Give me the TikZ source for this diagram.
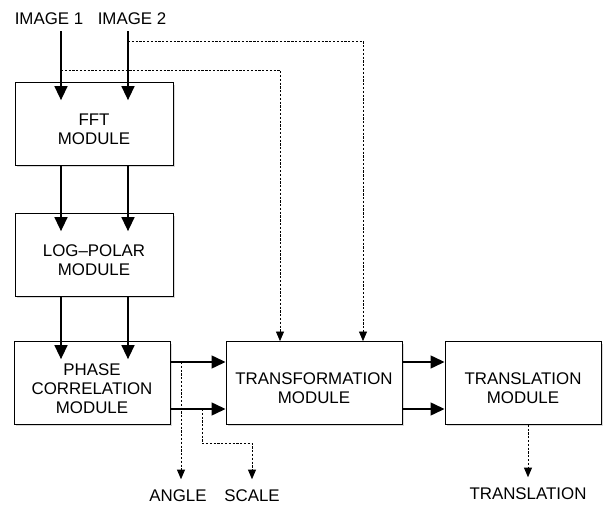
\documentclass[tikz,border=0pt]{standalone}
\usepackage{fontspec}
\setmainfont{Liberation Sans}
\usepackage{tikz}
\usetikzlibrary{arrows.meta,positioning,shadows}

\newcommand{\modstrut}{\rule{0pt}{16pt}}

\begin{document}
\begin{tikzpicture}[
    x=0.025cm, y=-0.025cm,
    module/.style={rectangle, draw, semithick, fill=white, drop shadow={shadow xshift=0.05cm, shadow yshift=-0.05cm, fill=gray!50, opacity=0.6}, minimum height=2.07cm, inner sep=1pt, align=center, font=\fontsize{12}{13.5}\selectfont},
    arrow/.style={-{Triangle[length=3.5mm,width=3.2mm]}, line width=1.4pt},
    arrowin/.style={arrow, shorten >=-0.45cm},
    dasharrow/.style={-{Triangle[length=2.4mm,width=2mm]}, line width=0.6pt, dash pattern=on 1.6pt off 1.1pt},
    lbl/.style={inner xsep=1pt, inner ysep=7.5pt, font=\fontsize{12}{13.5}\selectfont}
]
\useasboundingbox (0,0) rectangle (608,506);

\node[lbl] (img1) at (49,19) {IMAGE 1};
\node[lbl] (img2) at (132,19) {IMAGE 2};
\coordinate (in1) at (61,31);
\coordinate (in2) at (128,31);

\node[module, minimum width=3.95cm] (fft)    at (94,124)  {\modstrut FFT\\MODULE};
\node[module, minimum width=3.95cm] (logp)   at (94,255)  {\modstrut LOG--POLAR\\MODULE};
\node[module, minimum width=3.9cm]  (phase)  at (92,383)  {\modstrut PHASE\\CORRELATION\\MODULE};
\node[module, minimum width=4.4cm]  (trans)  at (314,383) {\modstrut TRANSFORMATION\\MODULE};
\node[module, minimum width=3.9cm]  (transl) at (523,383) {\modstrut TRANSLATION\\MODULE};

\node[lbl] (angle)    at (178,496) {ANGLE};
\node[lbl] (scale)    at (252,496) {SCALE};
\node[lbl] (transout) at (528,494) {TRANSLATION};

\coordinate (d1) at (280,70);
\coordinate (d2) at (363,41);
\coordinate (a1) at (181,362);
\coordinate (s1) at (202,409);

\draw[arrowin] (in1) -- (in1 |- fft.north);
\draw[arrowin] (in2) -- (in2 |- fft.north);
\draw[arrowin] (fft.south -| in1) -- (logp.north -| in1);
\draw[arrowin] (fft.south -| in2) -- (logp.north -| in2);
\draw[arrowin] (logp.south -| in1) -- (phase.north -| in1);
\draw[arrowin] (logp.south -| in2) -- (phase.north -| in2);
\draw[dasharrow] (in1 |- d1) -- (d1) -- (d1 |- trans.north);
\draw[dasharrow] (in2 |- d2) -- (d2) -- (d2 |- trans.north);

\draw[arrow] (phase.east |- a1) -- (trans.west |- a1);
\draw[arrow] (phase.east |- s1) -- (trans.west |- s1);
\draw[arrow] (trans.east |- a1) -- (transl.west |- a1);
\draw[arrow] (trans.east |- s1) -- (transl.west |- s1);

\draw[dasharrow] (a1) -- (a1 |- angle.north);
\draw[dasharrow] (s1) -- ++(0,34) -| (scale.north);
\draw[dasharrow] (transl.south -| transout.north) -- (transout.north);
\end{tikzpicture}
\end{document}
